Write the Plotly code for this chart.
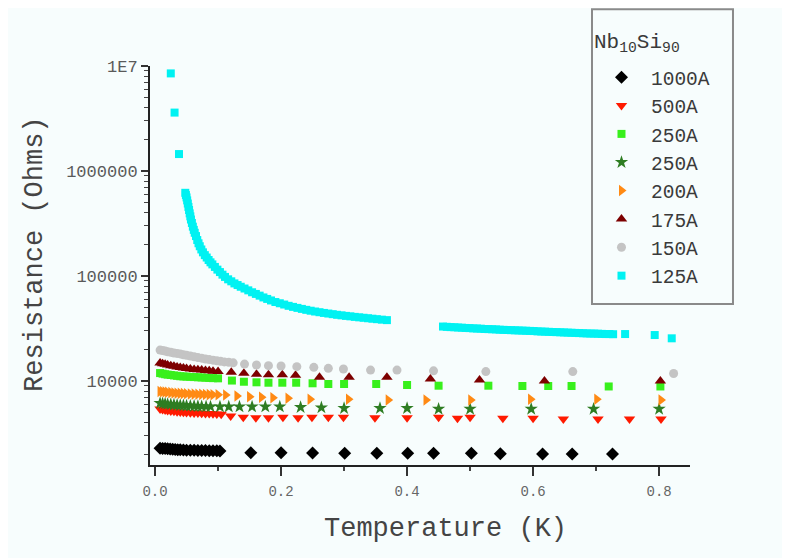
import plotly.graph_objects as go

# ---------------- data ----------------
labels = ["1000A", "500A", "250A", "250A", "200A", "175A", "150A", "125A"]
legend_title = "Nb<sub>10</sub>Si<sub>90</sub>"

t_1000 = [0.008, 0.012, 0.016, 0.02, 0.024, 0.028, 0.032, 0.036, 0.04, 0.045, 0.05, 0.056,
          0.062, 0.068, 0.074, 0.080, 0.086, 0.092, 0.098, 0.103,
          0.152, 0.2, 0.25, 0.301, 0.352, 0.401, 0.442, 0.502, 0.548, 0.615, 0.662, 0.726]
r_1000 = [2290, 2280, 2270, 2260, 2250, 2240, 2230, 2220, 2210, 2200, 2195, 2190,
          2185, 2180, 2180, 2175, 2170, 2170, 2165, 2160,
          2075, 2070, 2060, 2050, 2050, 2050, 2050, 2050, 2030, 2020, 2020, 2020]

t_500 = [0.008, 0.012, 0.016, 0.02, 0.025, 0.03, 0.035, 0.04, 0.045, 0.05, 0.056, 0.062,
         0.068, 0.074, 0.08, 0.086, 0.092, 0.098, 0.105,
         0.12, 0.14, 0.16, 0.18, 0.203, 0.227, 0.249, 0.275, 0.299, 0.349, 0.4, 0.45,
         0.48, 0.5, 0.552, 0.6, 0.648, 0.703, 0.753, 0.803]
r_500 = [5400, 5340, 5280, 5230, 5180, 5140, 5100, 5070, 5040, 5010, 4990, 4970,
         4950, 4930, 4910, 4890, 4870, 4850, 4830,
         4640, 4510, 4470, 4470, 4510, 4470, 4510, 4510, 4510, 4470, 4470, 4510,
         4420, 4510, 4420, 4420, 4350, 4350, 4350, 4350]

t_250a = [0.008, 0.012, 0.016, 0.02, 0.025, 0.03, 0.035, 0.04, 0.045, 0.05, 0.056, 0.062,
          0.068, 0.074, 0.08, 0.086, 0.092, 0.1,
          0.122, 0.141, 0.161, 0.180, 0.202, 0.224, 0.25, 0.275, 0.3, 0.351, 0.4, 0.45,
          0.529, 0.583, 0.624, 0.661, 0.72, 0.802]
r_250a = [11900, 11750, 11600, 11500, 11400, 11300, 11200, 11100, 11050, 11000, 10950, 10900,
          10850, 10800, 10750, 10700, 10650, 10600,
          10100, 9840, 9720, 9630, 9630, 9630, 9510, 9360, 9360, 9360, 9160, 9020,
          9020, 8960, 8960, 8960, 8870, 8870]

t_250b = [0.008, 0.012, 0.016, 0.02, 0.025, 0.03, 0.035, 0.04, 0.045, 0.05, 0.056, 0.062,
          0.068, 0.074, 0.081, 0.088,
          0.103, 0.117, 0.134, 0.154, 0.175, 0.198, 0.231, 0.264, 0.3, 0.357, 0.4, 0.45,
          0.5, 0.597, 0.696, 0.8]
r_250b = [6150, 6100, 6060, 6020, 5980, 5940, 5900, 5870, 5840, 5810, 5790, 5770,
          5750, 5730, 5710, 5700,
          5690, 5690, 5690, 5690, 5690, 5690, 5620, 5580, 5500, 5500, 5500, 5410,
          5410, 5410, 5410, 5410]

t_200 = [0.008, 0.012, 0.016, 0.02, 0.025, 0.03, 0.035, 0.04, 0.045, 0.05, 0.056, 0.062,
         0.068, 0.074, 0.08, 0.086, 0.092, 0.1,
         0.112, 0.130, 0.150, 0.169, 0.187, 0.211, 0.246, 0.307, 0.37, 0.43, 0.501,
         0.596, 0.701, 0.803]
r_200 = [7950, 7900, 7850, 7800, 7750, 7700, 7660, 7620, 7590, 7560, 7530, 7500,
         7480, 7460, 7440, 7420, 7400, 7380,
         7360, 7200, 7080, 6990, 6930, 6860, 6700, 6700, 6590, 6590, 6590,
         6700, 6700, 6590]

t_175 = [0.008, 0.012, 0.016, 0.02, 0.025, 0.03, 0.035, 0.04, 0.045, 0.05, 0.056, 0.062,
         0.068, 0.074, 0.08, 0.086, 0.092, 0.1,
         0.121, 0.141, 0.161, 0.180, 0.202, 0.223, 0.261, 0.308, 0.368, 0.437, 0.515,
         0.618, 0.802]
r_175 = [14800, 14600, 14400, 14200, 14000, 13800, 13600, 13450, 13300, 13150, 13000, 12900,
         12800, 12700, 12600, 12500, 12400, 12300,
         12100, 11840, 11580, 11480, 11480, 11330, 10840, 10840, 10840, 10450, 10220,
         10000, 10000]

t_150 = [0.008, 0.012, 0.016, 0.02, 0.025, 0.03, 0.035, 0.04, 0.045, 0.05, 0.056, 0.062,
         0.068, 0.074, 0.08, 0.086, 0.092, 0.098, 0.104, 0.110, 0.117, 0.124,
         0.142, 0.161, 0.180, 0.2, 0.225, 0.252, 0.275, 0.299, 0.342, 0.384, 0.442,
         0.525, 0.663, 0.823]
r_150 = [19700, 19500, 19300, 19000, 18800, 18500, 18300, 18100, 17800, 17600, 17300, 17000,
         16700, 16500, 16200, 16000, 15800, 15600, 15400, 15200, 15050, 14900,
         14500, 14200, 14000, 13900, 13700, 13500, 13200, 13000, 12700, 12700, 12500,
         12300, 12300, 11800]

t_125 = [0.025, 0.031, 0.038,
         0.048, 0.049, 0.050, 0.051, 0.052, 0.053, 0.054, 0.055, 0.056, 0.057, 0.0585, 0.060,
         0.0615, 0.063, 0.065, 0.067, 0.069, 0.071, 0.0735, 0.076, 0.079, 0.082, 0.085, 0.088,
         0.091, 0.095, 0.099, 0.103, 0.107, 0.111, 0.116, 0.121, 0.126, 0.131, 0.136, 0.142,
         0.148, 0.154, 0.160, 0.166, 0.172, 0.178, 0.184, 0.191, 0.198, 0.205, 0.212, 0.219,
         0.226, 0.233, 0.240, 0.247, 0.254, 0.261, 0.268, 0.275, 0.282, 0.289, 0.296, 0.303,
         0.310, 0.317, 0.324, 0.331, 0.338, 0.345, 0.352, 0.360, 0.368,
         0.457, 0.463, 0.469, 0.475, 0.481, 0.487, 0.493, 0.499, 0.505, 0.511, 0.517, 0.523,
         0.529, 0.535, 0.541, 0.547, 0.553, 0.559, 0.565, 0.571, 0.577, 0.583, 0.589, 0.595,
         0.601, 0.607, 0.613, 0.619, 0.625, 0.631, 0.637, 0.643, 0.649, 0.655, 0.661, 0.667,
         0.673, 0.679, 0.685, 0.691, 0.697, 0.703, 0.709, 0.715, 0.721, 0.727,
         0.746, 0.793, 0.820]
r_125 = [8.5e6, 3.6e6, 1.45e6,
         6.2e5, 5.9e5, 5.6e5, 5.25e5, 4.9e5, 4.55e5, 4.25e5, 3.95e5, 3.7e5, 3.45e5, 3.2e5, 2.95e5,
         2.75e5, 2.58e5, 2.4e5, 2.2e5, 2.05e5, 1.92e5, 1.79e5, 1.68e5, 1.58e5, 1.5e5, 1.42e5, 1.35e5,
         1.29e5, 1.22e5, 1.15e5, 1.09e5, 1.03e5, 9.8e4, 9.3e4, 8.9e4, 8.5e4, 8.2e4, 7.9e4, 7.6e4,
         7.3e4, 7.0e4, 6.75e4, 6.5e4, 6.25e4, 6.05e4, 5.85e4, 5.65e4, 5.5e4, 5.35e4, 5.2e4, 5.08e4,
         4.97e4, 4.86e4, 4.76e4, 4.67e4, 4.59e4, 4.52e4, 4.45e4, 4.39e4, 4.33e4, 4.27e4, 4.22e4, 4.17e4,
         4.13e4, 4.08e4, 4.04e4, 4.0e4, 3.96e4, 3.92e4, 3.88e4, 3.84e4, 3.8e4,
         3.30e4, 3.28e4, 3.26e4, 3.25e4, 3.23e4, 3.22e4, 3.20e4, 3.19e4, 3.17e4, 3.16e4, 3.15e4, 3.13e4,
         3.12e4, 3.11e4, 3.10e4, 3.08e4, 3.07e4, 3.06e4, 3.05e4, 3.04e4, 3.03e4, 3.02e4, 3.01e4, 3.00e4,
         2.99e4, 2.97e4, 2.96e4, 2.95e4, 2.94e4, 2.93e4, 2.92e4, 2.91e4, 2.90e4, 2.89e4, 2.88e4, 2.87e4,
         2.86e4, 2.85e4, 2.84e4, 2.83e4, 2.83e4, 2.82e4, 2.81e4, 2.80e4, 2.80e4, 2.79e4,
         2.8e4, 2.74e4, 2.55e4]

x_ticks = [0.0, 0.2, 0.4, 0.6, 0.8]
x_ticktext = ["0.0", "0.2", "0.4", "0.6", "0.8"]
x_minor = [0.1, 0.3, 0.5, 0.7]
y_ticks = [1e4, 1e5, 1e6, 1e7]
y_ticktext = ["10000", "100000", "1000000", "1E7"]
y_minor = [m * 10 ** e for e in range(3, 7) for m in range(2, 10) if m * 10 ** e > 1600]

# ---------------- styling ----------------
series = [
    (t_1000, r_1000, "diamond", 10, "#000000"),
    (t_500, r_500, "triangle-down", 10, "#ff1a00"),
    (t_250a, r_250a, "square", 8, "#38f01c"),
    (t_250b, r_250b, "star", 10, "#2e7d22"),
    (t_200, r_200, "triangle-right", 10, "#ff8a14"),
    (t_175, r_175, "triangle-up", 10, "#7d0000"),
    (t_150, r_150, "circle", 9, "#c4c4c4"),
    (t_125, r_125, "square", 8, "#00f2f2"),
]

FONT = "Liberation Mono"
BG = "#f7fdfd"

fig = go.Figure()
for (xs, ys, sym, sz, col), name in zip(series, labels):
    fig.add_trace(go.Scatter(
        x=xs, y=ys, mode="markers", name=name,
        marker=dict(symbol=sym, size=sz, color=col, line=dict(width=0)),
        cliponaxis=False,
    ))

# legend frame (box drawn as a shape so the title gap matches the original)
fig.add_shape(type="rect", xref="paper", yref="paper",
              x0=0.8185, x1=1.0796, y0=0.4035, y1=1.1425,
              line=dict(color="#8a8a8a", width=2), fillcolor=BG, layer="below")

fig.update_layout(
    width=790, height=558,
    margin=dict(l=142, r=108, t=58, b=101, autoexpand=False),
    paper_bgcolor=BG, plot_bgcolor=BG,
    font=dict(family=FONT, color="#333333"),
    showlegend=True,
    legend=dict(
        x=0.8185, xanchor="left", y=0.426, yanchor="bottom",
        bgcolor="rgba(0,0,0,0)", borderwidth=0,
        font=dict(family=FONT, size=19.5, color="#3a3a3a"),
        itemwidth=49,
    ),
    xaxis=dict(
        range=[-0.008, 0.849], showgrid=False, zeroline=False,
        showline=True, linecolor="#222222", linewidth=2,
        ticks="outside", ticklen=9, tickwidth=2, tickcolor="#333333",
        tickvals=x_ticks, ticktext=x_ticktext, ticklabelstandoff=3,
        tickfont=dict(family=FONT, size=14, color="#666666"),
        minor=dict(ticks="outside", ticklen=4, tickwidth=1.5, tickcolor="#444444",
                   tickvals=x_minor),
    ),
    yaxis=dict(
        type="log", range=[3.2, 7.0], showgrid=False, zeroline=False,
        showline=True, linecolor="#222222", linewidth=2,
        ticks="outside", ticklen=7, tickwidth=2, tickcolor="#333333",
        tickvals=y_ticks, ticktext=y_ticktext,
        tickfont=dict(family=FONT, size=17, color="#5a5a5a"),
        minor=dict(ticks="outside", ticklen=4, tickwidth=1, tickcolor="#444444",
                   tickvals=y_minor),
    ),
    annotations=[
        dict(text=legend_title, xref="paper", yref="paper", x=0.8185, y=1.0576,
             xanchor="left", yanchor="middle", showarrow=False,
             font=dict(family=FONT, size=21, color="#3a3a3a")),
        dict(text="Temperature (K)", xref="paper", yref="paper", x=0.548, y=-0.16,
             xanchor="center", yanchor="middle", showarrow=False,
             font=dict(family=FONT, size=27, color="#444444")),
        dict(text="Resistance (Ohms)", xref="paper", yref="paper", x=-0.213, y=0.529,
             xanchor="center", yanchor="middle", showarrow=False, textangle=-90,
             font=dict(family=FONT, size=27, color="#444444")),
    ],
)

fig.write_html("out.html")
